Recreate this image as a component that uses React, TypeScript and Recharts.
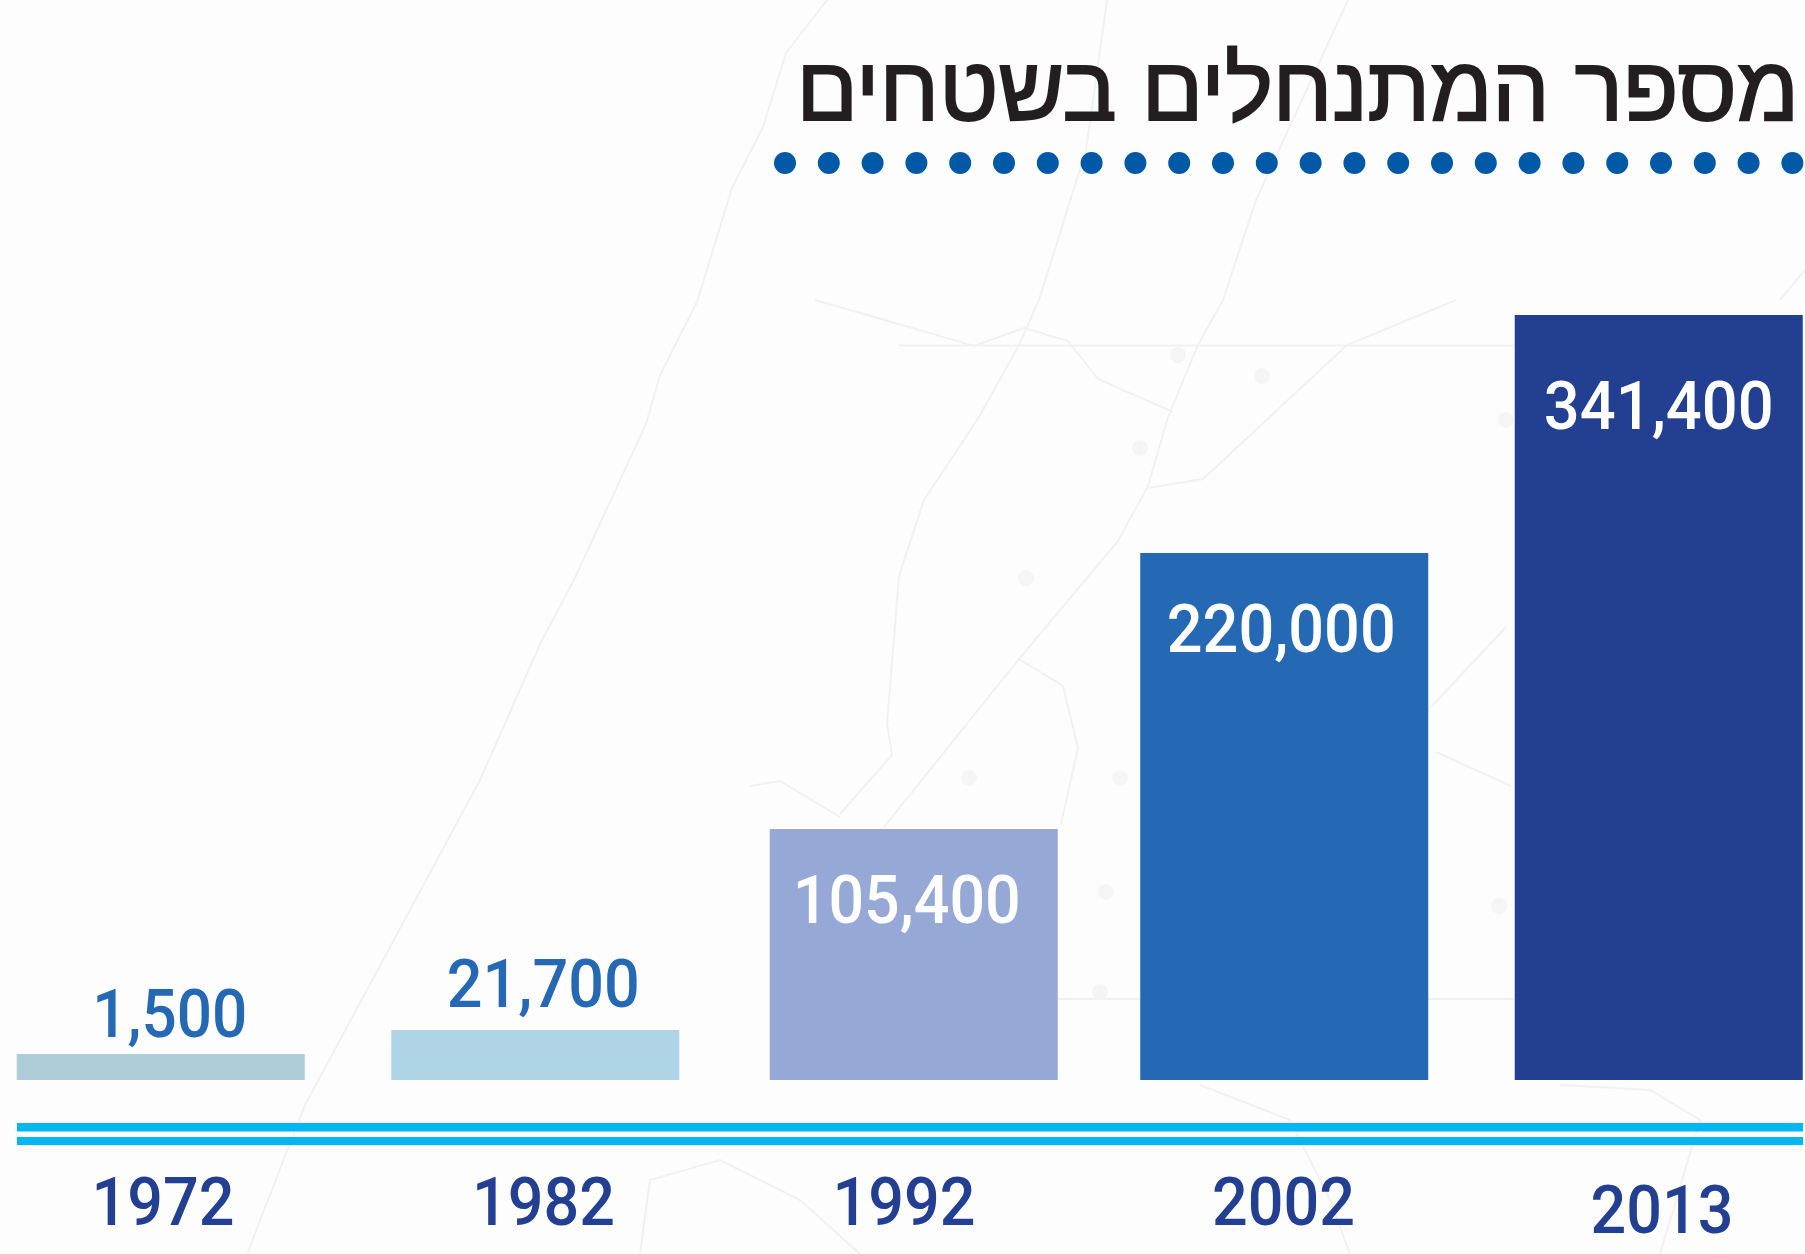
import React from "react";
import { BarChart, Bar, XAxis, YAxis, Cell, LabelList } from "recharts";

const years = ["1972", "1982", "1992", "2002", "2013"];
const settlers = [1500, 21700, 105400, 220000, 341400];
// Bar lengths as they are drawn in the picture (the original is not to scale at the low end)
const drawnLength = [11600, 22300, 112000, 235200, 341400];
const barColors = ["#afcdd8", "#aed4e5", "#96a8d6", "#2569b5", "#233f91"];
const labelColors = ["#2569b5", "#2569b5", "#ffffff", "#ffffff", "#ffffff"];
const title = "מספר המתנחלים בשטחים";

const data = years.map((year, i) => ({ year, settlers: settlers[i], drawn: drawnLength[i] }));

const FONT = "Roboto, sans-serif";
const tickNudge = [2, 8, -6, -1, 3];
const tickDrop = [0, 0, 0, 0, 8];
const barNudge = [0, 0, 4, 0, 0];
const labelNudge = [9, 8, -3, -3, 0];
const labelInset = [-17, -23, 94, 99, 114];
const labelWidths = [155, 193, 228, 229, 230];

const YearTick = (p: any) => {
  const i = p.index;
  return (
    <text x={p.x + tickNudge[i]} y={1225 + tickDrop[i]} textAnchor="middle" fontFamily={FONT} fontWeight={500} fontSize={66} fill="#233f91" textLength={143} lengthAdjust="spacingAndGlyphs">
      {p.payload.value}
    </text>
  );
};

const BarShape = (p: any) => {
  const i = p.index;
  return <rect x={p.x + barNudge[i]} y={p.y} width={p.width} height={p.height} fill={barColors[i]} />;
};

const ValueLabel = (p: any) => {
  const i = p.index;
  return (
    <text x={p.x + p.width / 2 + labelNudge[i]} y={p.y + labelInset[i]} textAnchor="middle" fontFamily={FONT} fontWeight={500} fontSize={67} fill={labelColors[i]} textLength={labelWidths[i]} lengthAdjust="spacingAndGlyphs">
      {settlers[i].toLocaleString("en-US")}
    </text>
  );
};

const dotCount = 24;
const dots = Array.from({ length: dotCount }, (_, i) => i);

const mapLines = [
  "M827 0 L786 53 L763 127 L732 188 L697 302 L660 375 L646 424 L574 580 L542 640 L480 780 L305 1105 L247 1254",
  "M1107 0 L1086 150 L1039 300 L1019 345 L979 417 L924 500 L899 576 L887 724 L892 755 L840 814",
  "M1348 0 L1256 200 L1223 300 L1198 345 L1168 417 L1148 486 L1118 541 L1019 659 L884 827",
  "M1148 488 L1203 479 L1347 345 L1456 300",
  "M815 300 L864 314 L974 346 L1024 328 L1068 341 L1098 379 L1173 412",
  "M1019 659 L1063 686 L1078 748 L1061 824",
  "M750 786 L780 781 L840 817",
  "M1431 707 L1506 627",
  "M1436 752 L1511 786",
  "M899 345.5 L1515 345.5",
  "M1058 999 L1515 999",
  "M1780 300 L1805 270",
  "M640 1254 L650 1180 L720 1160 L800 1200 L860 1254",
  "M1200 1085 L1290 1120 L1330 1200 L1350 1254",
  "M1560 1085 L1650 1090 L1700 1120 L1660 1254",
];
const mapTowns = [
  [1178, 355], [1262, 376], [1140, 448], [1026, 578], [969, 778], [1120, 778], [1506, 420],
  [1106, 892], [1100, 992], [1499, 906],
];

export default function App() {
  return (
    <div style={{ position: "fixed", left: 0, top: 0, width: 1805, height: 1254, overflow: "hidden", background: "#fdfdfe" }}>
      <svg width={1805} height={1254} style={{ position: "absolute", left: 0, top: 0 }}>
        <g fill="none" stroke="#f1f1f2" strokeWidth={2}>
          {mapLines.map((d) => (
            <path key={d} d={d} />
          ))}
        </g>
        {mapTowns.map(([cx, cy]) => (
          <circle key={cx} cx={cx} cy={cy} r={8} fill="#f5f5f6" />
        ))}
      </svg>
      <svg width={1805} height={1254} style={{ position: "absolute", left: 0, top: 0 }}>
        <text x={1799} y={120} textAnchor="start" direction="rtl" fontFamily="'Liberation Sans', sans-serif" fontSize={90.5} fill="#231f20" stroke="#231f20" strokeWidth={2}>
          {title}
        </text>
        {dots.map((d) => (
          <circle key={d} cx={785 + d * 43.8} cy={163} r={11} fill="#0059a6" />
        ))}
        <rect x={17} y={1123} width={1786} height={8.5} fill="#00b7f1" />
        <rect x={17} y={1137} width={1786} height={8} fill="#00b7f1" />
      </svg>
      <div style={{ position: "absolute", left: 0, top: 0 }}>
        <BarChart width={1805} height={1254} data={data} margin={{ top: 315, right: 2, bottom: 0, left: 17 }}>
          <XAxis dataKey="year" scale="point" padding={{ left: 144, right: 144 }} axisLine={false} tickLine={false} height={174} interval={0} tick={YearTick} />
          <YAxis hide domain={[0, 341400]} />
          <Bar dataKey="drawn" barSize={288} isAnimationActive={false} shape={BarShape}>
            {data.map((d, i) => (
              <Cell key={d.year} fill={barColors[i]} />
            ))}
            <LabelList dataKey="settlers" content={ValueLabel} />
          </Bar>
        </BarChart>
      </div>
    </div>
  );
}
